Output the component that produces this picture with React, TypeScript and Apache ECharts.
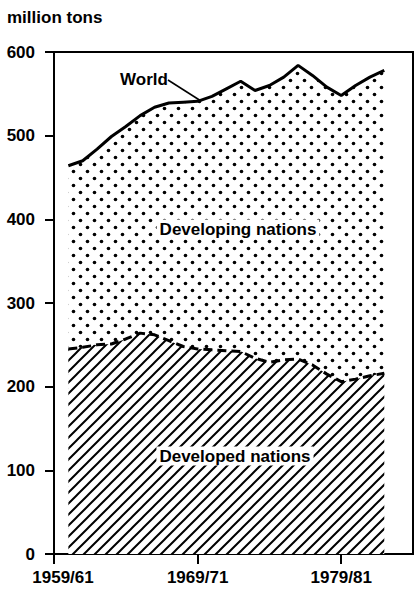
import React, { useEffect, useRef } from 'react';
import * as echarts from 'echarts';

// Years plotted (annual, 3-year-average series)
const years = [1961, 1962, 1963, 1964, 1965, 1966, 1967, 1968, 1969, 1970, 1971, 1972, 1973, 1974, 1975, 1976, 1977, 1978, 1979, 1980, 1981, 1982, 1983];
// World total, million tons
const worldValues = [464, 470, 484, 499, 511, 524, 534, 539, 540, 541, 547, 556, 565, 554, 560, 570, 584, 572, 558, 548, 560, 570, 578];
// Developed nations, million tons
const developedValues = [245, 247, 250, 251, 257, 264, 262, 255, 248, 245, 244, 243, 242, 234, 229, 232, 233, 226, 215, 206, 209, 213, 216];

const xTickValues = [1960, 1970, 1980];
const xTickLabels = ['1959/61', '1969/71', '1979/81'];
const yTickLabels = ['0', '100', '200', '300', '400', '500', '600'];

const FONT = '"Liberation Sans", Arial, Helvetica, sans-serif';

function makeDots(): HTMLCanvasElement {
  const c = document.createElement('canvas');
  c.width = 14;
  c.height = 14;
  const ctx = c.getContext('2d')!;
  ctx.fillStyle = '#000';
  const pts = [[3.5, 3.5], [10.5, 10.5]];
  for (const [x, y] of pts) {
    ctx.beginPath();
    ctx.arc(x, y, 1.8, 0, Math.PI * 2);
    ctx.fill();
  }
  return c;
}

function makeHatch(): HTMLCanvasElement {
  const s = 11;
  const c = document.createElement('canvas');
  c.width = s;
  c.height = s;
  const ctx = c.getContext('2d')!;
  ctx.fillStyle = '#fff';
  ctx.fillRect(0, 0, s, s);
  ctx.strokeStyle = '#000';
  ctx.lineWidth = 2;
  ctx.beginPath();
  ctx.moveTo(-1, s + 1);
  ctx.lineTo(s + 1, -1);
  ctx.moveTo(-3, 3);
  ctx.lineTo(3, -3);
  ctx.moveTo(s - 3, s + 3);
  ctx.lineTo(s + 3, s - 3);
  ctx.stroke();
  return c;
}

export default function App() {
  const ref = useRef<HTMLDivElement>(null);
  useEffect(() => {
    if (!ref.current) return;
    const chart = echarts.init(ref.current, null, { renderer: 'svg' });
    const dots = makeDots();
    const hatch = makeHatch();
    const labelStyle = { color: '#000', fontSize: 17, fontWeight: 'bold' as const, fontFamily: FONT };
    chart.setOption({
      animation: false,
      grid: {
        left: 54, right: 3, top: 52, bottom: 39,
        show: true, borderColor: '#000', borderWidth: 2, backgroundColor: 'transparent',
      },
      xAxis: {
        type: 'value', min: 1960, max: 1985, interval: 10,
        axisLine: { show: true, onZero: false, lineStyle: { color: '#000', width: 2 } },
        axisTick: { show: true, length: 10, customValues: xTickValues, lineStyle: { color: '#000', width: 2 } },
        axisLabel: {
          ...labelStyle,
          customValues: xTickValues,
          margin: 15,
          formatter: (v: number) => {
            const i = xTickValues.indexOf(v);
            if (i < 0) return '';
            return i === 0 ? `{first|${xTickLabels[i]}}` : xTickLabels[i];
          },
          rich: { first: { ...labelStyle, padding: [0, 0, 0, 18] } },
        },
        splitLine: { show: false },
      },
      yAxis: {
        type: 'value', min: 0, max: 600, interval: 100,
        axisLine: { show: true, lineStyle: { color: '#000', width: 2 } },
        axisTick: { show: true, length: 9, lineStyle: { color: '#000', width: 2 } },
        axisLabel: {
          ...labelStyle,
          margin: 19,
          formatter: (v: number) => yTickLabels[Math.round(v / 100)] ?? '',
        },
        splitLine: { show: false },
      },
      series: [
        {
          type: 'line', name: 'World',
          data: years.map((y, i) => [y, worldValues[i]]),
          symbol: 'none',
          lineStyle: { color: '#000', width: 3 },
          areaStyle: { color: { image: dots, repeat: 'repeat' }, opacity: 1 },
          z: 2,
        },
        {
          type: 'line', name: 'Developed nations',
          data: years.map((y, i) => [y, developedValues[i]]),
          symbol: 'none',
          lineStyle: { color: '#000', width: 3, type: [9, 5] },
          areaStyle: { color: { image: hatch, repeat: 'repeat' }, opacity: 1 },
          z: 3,
        },
      ],
      graphic: [
        {
          type: 'text', left: 7, top: 9, z: 10,
          style: { text: 'million tons', font: `bold 17px ${FONT}`, fill: '#000' },
        },
        {
          type: 'text', x: 144, y: 79, z: 10,
          style: { text: 'World', font: `bold 17px ${FONT}`, fill: '#000', align: 'center', verticalAlign: 'middle' },
        },
        {
          type: 'line', z: 10,
          shape: { x1: 168, y1: 80, x2: 201, y2: 101 },
          style: { stroke: '#000', lineWidth: 1.5 },
        },
        {
          type: 'text', x: 238, y: 229, z: 10,
          style: {
            text: 'Developing nations', font: `bold 17px ${FONT}`, fill: '#000',
            align: 'center', verticalAlign: 'middle', backgroundColor: '#fff', padding: [1, 3],
          },
        },
        {
          type: 'text', x: 235, y: 456, z: 10,
          style: {
            text: 'Developed nations', font: `bold 17px ${FONT}`, fill: '#000',
            align: 'center', verticalAlign: 'middle', backgroundColor: '#fff', padding: [1, 3],
          },
        },
      ],
    });
    return () => chart.dispose();
  }, []);
  return (
    <div
      ref={ref}
      style={{ position: 'fixed', left: 0, top: 0, width: 416, height: 593, background: '#fff' }}
    />
  );
}
